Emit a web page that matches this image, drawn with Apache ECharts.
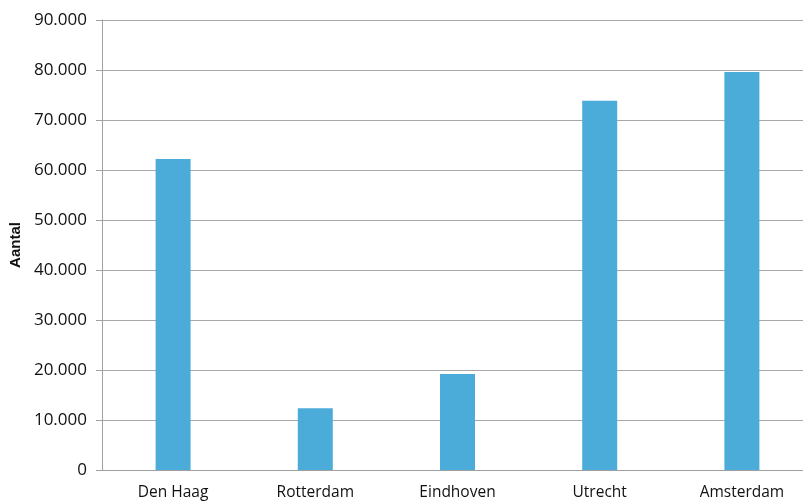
<!DOCTYPE html>
<html>
<head>
<meta charset="utf-8">
<script src="https://cdn.jsdelivr.net/npm/echarts@6/dist/echarts.min.js"></script>
<style>html,body{margin:0;padding:0;background:#fff;}#c{width:803px;height:502px;}</style>
</head>
<body>
<div id="c"></div>
<script>
var categories = ['Den Haag', 'Rotterdam', 'Eindhoven', 'Utrecht', 'Amsterdam'];
var values = [62200, 12350, 19200, 73850, 79600];
var yAxisTitle = 'Aantal';

function fmt(v) {
  return String(v).replace(/\B(?=(\d{3})+(?!\d))/g, '.');
}

var chart = echarts.init(document.getElementById('c'));
chart.setOption({
  animation: false,
  backgroundColor: '#ffffff',
  grid: { left: 102, top: 20, width: 711, height: 450, containLabel: false, outerBoundsMode: 'none' },
  xAxis: {
    type: 'category',
    data: categories,
    axisLine: { lineStyle: { color: '#a0a0a0', width: 1 } },
    axisTick: { show: false },
    axisLabel: { color: '#111', fontSize: 15.5, fontFamily: 'Open Sans', margin: 15 }
  },
  yAxis: {
    type: 'value',
    min: 0, max: 90000, interval: 10000,
    name: yAxisTitle,
    nameLocation: 'middle',
    nameGap: 77,
    nameTextStyle: { fontWeight: 'bold', fontSize: 15, color: '#111', fontFamily: 'Liberation Sans' },
    axisLine: { show: true, lineStyle: { color: '#a0a0a0', width: 1 } },
    axisTick: { show: true, length: 6, lineStyle: { color: '#a0a0a0' } },
    splitLine: { lineStyle: { color: '#a8a8a8', width: 1 } },
    axisLabel: { color: '#111', fontSize: 17, fontFamily: 'Open Sans', margin: 15, formatter: fmt }
  },
  series: [{
    type: 'bar',
    data: values,
    barWidth: 35,
    itemStyle: { color: '#4bacd9' }
  }]
});
</script>
</body>
</html>
